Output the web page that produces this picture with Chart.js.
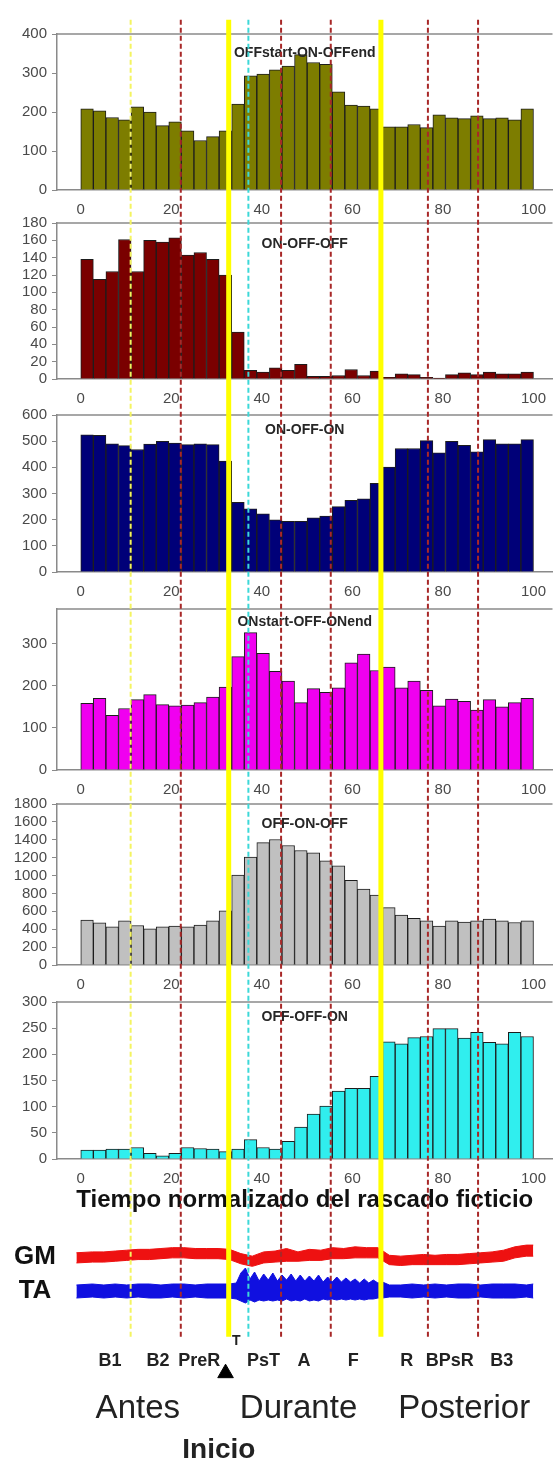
<!DOCTYPE html>
<html>
<head>
<meta charset="utf-8">
<script src="https://cdn.jsdelivr.net/npm/chart.js@4.4.1/dist/chart.umd.min.js"></script>
<style>
  html, body { margin: 0; padding: 0; background: #fff; }
  #fig { position: relative; width: 557px; height: 1469px; overflow: hidden; background: #fff; }
  #fig canvas { position: absolute; left: 0; }
</style>
</head>
<body>
<div id="fig"></div>
<script>
// 36 bins over normalized time (0-100 %)
const nBins = 36;
const binCenters = Array.from({ length: nBins }, (_, i) => (i + 0.5) * 100 / nBins);
const xTicks = [0, 20, 40, 60, 80, 100];
const xTitle = 'Tiempo normalizado del rascado ficticio';

const offStartOnOffEnd = [208, 203, 186, 180, 213, 200, 165, 175, 152, 127, 137, 152, 220, 293, 297, 308, 318, 347, 327, 322, 252, 218, 215, 208, 162, 162, 168, 160, 193, 185, 183, 190, 183, 185, 180, 208];
const onOffOff = [138, 115, 124, 161, 124, 160, 158, 163, 143, 146, 138, 120, 54, 10, 8, 13, 10, 17, 3, 3, 4, 11, 4, 9, 2, 6, 5, 2, 1, 5, 7, 5, 8, 6, 6, 8];
const onOffOn = [524, 522, 490, 483, 468, 489, 499, 493, 487, 490, 487, 424, 266, 241, 222, 199, 194, 194, 207, 214, 250, 274, 280, 339, 401, 472, 472, 502, 455, 499, 484, 459, 506, 490, 490, 506];
const onStartOffOnEnd = [158, 170, 130, 146, 167, 179, 155, 152, 154, 160, 173, 197, 269, 326, 277, 234, 211, 160, 193, 184, 195, 254, 275, 236, 244, 195, 211, 189, 152, 168, 163, 142, 167, 150, 160, 170];
const offOnOff = [501, 471, 427, 493, 442, 404, 427, 434, 427, 445, 493, 605, 1006, 1206, 1369, 1403, 1336, 1280, 1254, 1165, 1110, 946, 850, 783, 642, 557, 523, 493, 434, 493, 479, 493, 512, 493, 475, 493];
const offOffOn = [17, 17, 19, 19, 22, 11, 6, 11, 22, 20, 19, 14, 19, 37, 22, 19, 34, 61, 86, 101, 130, 135, 135, 158, 224, 220, 232, 234, 249, 249, 231, 242, 223, 220, 242, 234];

const panelTitles = ['OFFstart-ON-OFFend', 'ON-OFF-OFF', 'ON-OFF-ON', 'ONstart-OFF-ONend', 'OFF-ON-OFF', 'OFF-OFF-ON'];
const panelSeries = [offStartOnOffEnd, onOffOff, onOffOn, onStartOffOnEnd, offOnOff, offOffOn];
const yMax = [400, 180, 600, 382, 1800, 300];
const yStep = [100, 20, 100, 100, 200, 50];

// phase boundaries (normalized time)
const markerTimes = [11.2, 22.4, 33.1, 37.5, 44.8, 55.9, 67.1, 77.6, 88.8];
const markerKinds = ['thinYellow', 'red', 'yellow', 'cyan', 'red', 'red', 'yellow', 'red', 'red'];
const phaseLabels = ['B1', 'B2', 'PreR', 'T', 'PsT', 'A', 'F', 'R', 'BPsR', 'B3'];
const phaseLabelX = [6.6, 17.3, 26.5, 34.8, 40.9, 49.9, 60.9, 72.9, 82.5, 94.1];
const periodLabels = ['Antes', 'Durante', 'Posterior'];
const periodLabelX = [12.8, 48.7, 85.7];
const onsetLabel = 'Inicio';
const onsetLabelX = 30.9;
const onsetMarkX = 32.4;

// EMG envelopes (arbitrary units)
const emgNames = ['GM', 'TA'];
const gmTime = [-1, 2.5, 5, 7.5, 10, 12.5, 15, 17.5, 20, 22.5, 25, 27.5, 30, 32.5, 35, 37.5, 40, 42.5, 45, 47.5, 50, 52.5, 55, 57.5, 60, 62.5, 65, 67.5, 70, 72.5, 75, 77.5, 80, 82.5, 85, 87.5, 90, 92.5, 95, 97.5, 99];
const gmHigh = [0.25, 0.3, 0.3, 0.35, 0.4, 0.45, 0.45, 0.5, 0.55, 0.55, 0.5, 0.5, 0.5, 0.45, 0.2, 0.05, 0.3, 0.35, 0.5, 0.3, 0.45, 0.4, 0.55, 0.5, 0.6, 0.55, 0.55, 0.1, 0.05, 0.1, 0.15, 0.1, 0.15, 0.15, 0.2, 0.25, 0.3, 0.4, 0.6, 0.7, 0.7];
const gmLow = [-0.35, -0.3, -0.3, -0.25, -0.2, -0.15, -0.15, -0.1, -0.05, -0.05, -0.1, -0.1, -0.1, -0.15, -0.4, -0.55, -0.35, -0.3, -0.25, -0.25, -0.2, -0.2, -0.1, -0.1, -0.05, -0.05, -0.05, -0.45, -0.5, -0.45, -0.45, -0.45, -0.45, -0.45, -0.4, -0.35, -0.3, -0.25, -0.05, 0.05, 0.05];
const taTime = [-1, 2.5, 5, 7.5, 10, 12.5, 15, 17.5, 20, 22.5, 25, 27.5, 30, 32.5,
  34, 35, 36, 37, 38, 39, 40, 41, 42, 43, 44, 45, 46, 47, 48, 49, 50, 51, 52, 53, 54, 55, 56, 57, 58, 59, 60, 61, 62, 63, 64, 65, 66,
  67.5, 70, 72.5, 75, 77.5, 80, 82.5, 85, 87.5, 90, 92.5, 95, 97.5, 99];
const taHigh = [0.3, 0.35, 0.3, 0.35, 0.3, 0.35, 0.35, 0.3, 0.35, 0.35, 0.3, 0.35, 0.35, 0.35,
  0.4, 0.9, 1.15, 0.6, 0.95, 0.5, 0.85, 0.55, 0.9, 0.5, 0.8, 0.55, 0.85, 0.5, 0.8, 0.5, 0.75, 0.5, 0.8, 0.45, 0.7, 0.45, 0.7, 0.45, 0.65, 0.45, 0.6, 0.4, 0.6, 0.4, 0.55, 0.4, 0.45,
  0.3, 0.3, 0.35, 0.3, 0.35, 0.3, 0.35, 0.35, 0.3, 0.35, 0.35, 0.35, 0.3, 0.35];
const taLow = [-0.35, -0.3, -0.35, -0.3, -0.35, -0.3, -0.35, -0.35, -0.3, -0.35, -0.3, -0.35, -0.35, -0.35,
  -0.4, -0.5, -0.6, -0.45, -0.55, -0.45, -0.5, -0.45, -0.5, -0.45, -0.5, -0.4, -0.5, -0.45, -0.5, -0.4, -0.5, -0.45, -0.5, -0.4, -0.45, -0.4, -0.45, -0.4, -0.45, -0.4, -0.45, -0.4, -0.45, -0.4, -0.4, -0.35, -0.35,
  -0.3, -0.3, -0.35, -0.3, -0.35, -0.3, -0.35, -0.35, -0.3, -0.35, -0.35, -0.35, -0.3, -0.35];

// layout / style
const FONT = '"Liberation Sans", Arial, sans-serif';
const X_MIN = -5.25, X_MAX = 104.2, PLOT_LEFT = 57;
const panelColors = ['#7d7d00', '#7a0000', '#000078', '#f000f0', '#c0c0c0', '#30eeee'];
const panelTop = [32, 221, 413, 607, 802, 1000];
const panelBase = [190, 379, 572, 770, 965, 1159];
const titleOffset = [19, 21, 15, 13, 20, 15];
const markerStyles = {
  thinYellow: { color: '#f4f460', width: 2, dash: [5, 3] },
  yellow: { color: '#ffff00', width: 5, dash: [] },
  red: { color: '#a82828', width: 2, dash: [5, 3] },
  cyan: { color: '#3cd8d8', width: 2, dash: [5, 3] }
};

Chart.defaults.font.family = FONT;
const fig = document.getElementById('fig');

function makeCanvas(top, height) {
  const cv = document.createElement('canvas');
  cv.width = 557;
  cv.height = height;
  cv.style.top = top + 'px';
  cv.style.width = '557px';
  cv.style.height = height + 'px';
  fig.appendChild(cv);
  return cv;
}

const panelDecor = {
  id: 'panelDecor',
  afterDatasetsDraw(chart, args, opts) {
    const { ctx, chartArea } = chart;
    ctx.save();
    ctx.strokeStyle = '#8a8a8a';
    ctx.lineWidth = 1.5;
    ctx.beginPath();
    ctx.moveTo(chartArea.left, chartArea.top);
    ctx.lineTo(chartArea.right, chartArea.top);
    ctx.stroke();
    ctx.fillStyle = '#262626';
    ctx.font = 'bold 14px ' + FONT;
    ctx.textAlign = 'center';
    ctx.textBaseline = 'middle';
    ctx.fillText(opts.text, (chartArea.left + chartArea.right) / 2, chartArea.top + opts.offset);
    ctx.restore();
  }
};

panelSeries.forEach((series, i) => {
  const padTop = 12;
  const axisH = i === 5 ? 56 : 30;
  const h = padTop + (panelBase[i] - panelTop[i]) + axisH;
  const cv = makeCanvas(panelTop[i] - padTop, h);
  new Chart(cv, {
    type: 'bar',
    data: {
      datasets: [{
        data: series.map((v, k) => ({ x: binCenters[k], y: v })),
        backgroundColor: panelColors[i],
        borderColor: '#1c1c1c',
        borderWidth: 1,
        barPercentage: 1,
        categoryPercentage: 1
      }]
    },
    options: {
      responsive: false,
      animation: false,
      devicePixelRatio: 1,
      layout: { padding: { top: padTop, left: 0, right: 0, bottom: 0 } },
      plugins: {
        legend: { display: false },
        tooltip: { enabled: false },
        panelDecor: { text: panelTitles[i], offset: titleOffset[i] }
      },
      scales: {
        x: {
          type: 'linear', min: X_MIN, max: X_MAX, offset: false,
          afterBuildTicks: s => { s.ticks = xTicks.map(v => ({ value: v })); },
          afterFit: s => { s.height = axisH; },
          grid: { display: false, drawTicks: false },
          border: { display: true, color: '#8a8a8a', width: 1.5 },
          ticks: { padding: 11, color: '#4a4a4a', font: { size: 15 }, maxRotation: 0, autoSkip: false, callback: v => String(v) },
          title: i === 5
            ? { display: true, text: xTitle, color: '#111', font: { size: 24, weight: 'bold' }, padding: 0 }
            : { display: false }
        },
        y: {
          min: 0, max: yMax[i],
          ticks: { stepSize: yStep[i], autoSkip: false, color: '#4a4a4a', font: { size: 15 }, padding: 5, callback: v => String(v) },
          afterBuildTicks: s => { s.ticks = s.ticks.filter(t => t.value % yStep[i] === 0); },
          afterFit: s => { s.width = PLOT_LEFT; },
          grid: { drawOnChartArea: false, tickLength: 5, color: '#8a8a8a' },
          border: { color: '#8a8a8a', width: 1.5 }
        }
      }
    },
    plugins: [panelDecor]
  });
});

// EMG traces
const emgLabel = {
  id: 'emgLabel',
  afterDraw(chart, args, opts) {
    const { ctx, chartArea } = chart;
    ctx.save();
    ctx.fillStyle = '#111';
    ctx.font = 'bold 26px ' + FONT;
    ctx.textAlign = 'center';
    ctx.textBaseline = 'middle';
    ctx.fillText(opts.text, 35, (chartArea.top + chartArea.bottom) / 2);
    ctx.restore();
  }
};

[[gmTime, gmHigh, gmLow, '#ee1111', 1240, 34, 1], [taTime, taHigh, taLow, '#1010e0', 1267, 48, 1.2]].forEach((e, i) => {
  const [t, hi, lo, color, top, h, range] = e;
  const cv = makeCanvas(top, h);
  new Chart(cv, {
    type: 'line',
    data: {
      datasets: [
        { data: hi.map((v, k) => ({ x: t[k], y: v })), borderColor: color, backgroundColor: color, borderWidth: 1, pointRadius: 0, tension: 0, fill: '+1' },
        { data: lo.map((v, k) => ({ x: t[k], y: v })), borderColor: color, backgroundColor: color, borderWidth: 1, pointRadius: 0, tension: 0, fill: false }
      ]
    },
    options: {
      responsive: false,
      animation: false,
      devicePixelRatio: 1,
      layout: { padding: { left: PLOT_LEFT, right: 0, top: 0, bottom: 0 } },
      plugins: { legend: { display: false }, tooltip: { enabled: false }, emgLabel: { text: emgNames[i] } },
      scales: {
        x: { type: 'linear', min: X_MIN, max: X_MAX, display: false },
        y: { min: -range, max: range, display: false }
      }
    },
    plugins: [emgLabel]
  });
});

// overlay: phase boundary lines and labels
const overlayText = {
  id: 'overlayText',
  afterDatasetsDraw(chart) {
    const { ctx } = chart;
    const x = chart.scales.x;
    ctx.save();
    ctx.fillStyle = '#222';
    ctx.textAlign = 'center';
    ctx.textBaseline = 'middle';
    phaseLabels.forEach((s, k) => {
      if (s === 'T') {
        ctx.font = 'bold 14px ' + FONT;
        ctx.fillText(s, x.getPixelForValue(phaseLabelX[k]), 1341);
      } else {
        ctx.font = 'bold 18px ' + FONT;
        ctx.fillText(s, x.getPixelForValue(phaseLabelX[k]), 1361);
      }
    });
    ctx.font = '33px ' + FONT;
    periodLabels.forEach((s, k) => ctx.fillText(s, x.getPixelForValue(periodLabelX[k]), 1409));
    ctx.font = 'bold 28px ' + FONT;
    ctx.fillText(onsetLabel, x.getPixelForValue(onsetLabelX), 1450);
    ctx.restore();
  }
};

const ov = makeCanvas(0, 1469);
ov.style.pointerEvents = 'none';
const lineDatasets = markerTimes.map((t, k) => {
  const st = markerStyles[markerKinds[k]];
  return {
    data: [{ x: t, y: 10 }, { x: t, y: 1345 }],
    showLine: true,
    borderColor: st.color,
    borderWidth: st.width,
    borderDash: st.dash,
    pointRadius: 0
  };
});
lineDatasets.push({
  data: [{ x: onsetMarkX, y: 1382 }],
  pointStyle: 'triangle',
  pointRadius: 9,
  backgroundColor: '#000',
  borderColor: '#000'
});

new Chart(ov, {
  type: 'scatter',
  data: { datasets: lineDatasets },
  options: {
    responsive: false,
    animation: false,
    devicePixelRatio: 1,
    layout: { padding: { left: PLOT_LEFT, right: 0, top: 0, bottom: 0 } },
    plugins: { legend: { display: false }, tooltip: { enabled: false } },
    scales: {
      x: { type: 'linear', min: X_MIN, max: X_MAX, display: false },
      y: { min: 0, max: 1469, reverse: true, display: false }
    }
  },
  plugins: [overlayText]
});
</script>
</body>
</html>
